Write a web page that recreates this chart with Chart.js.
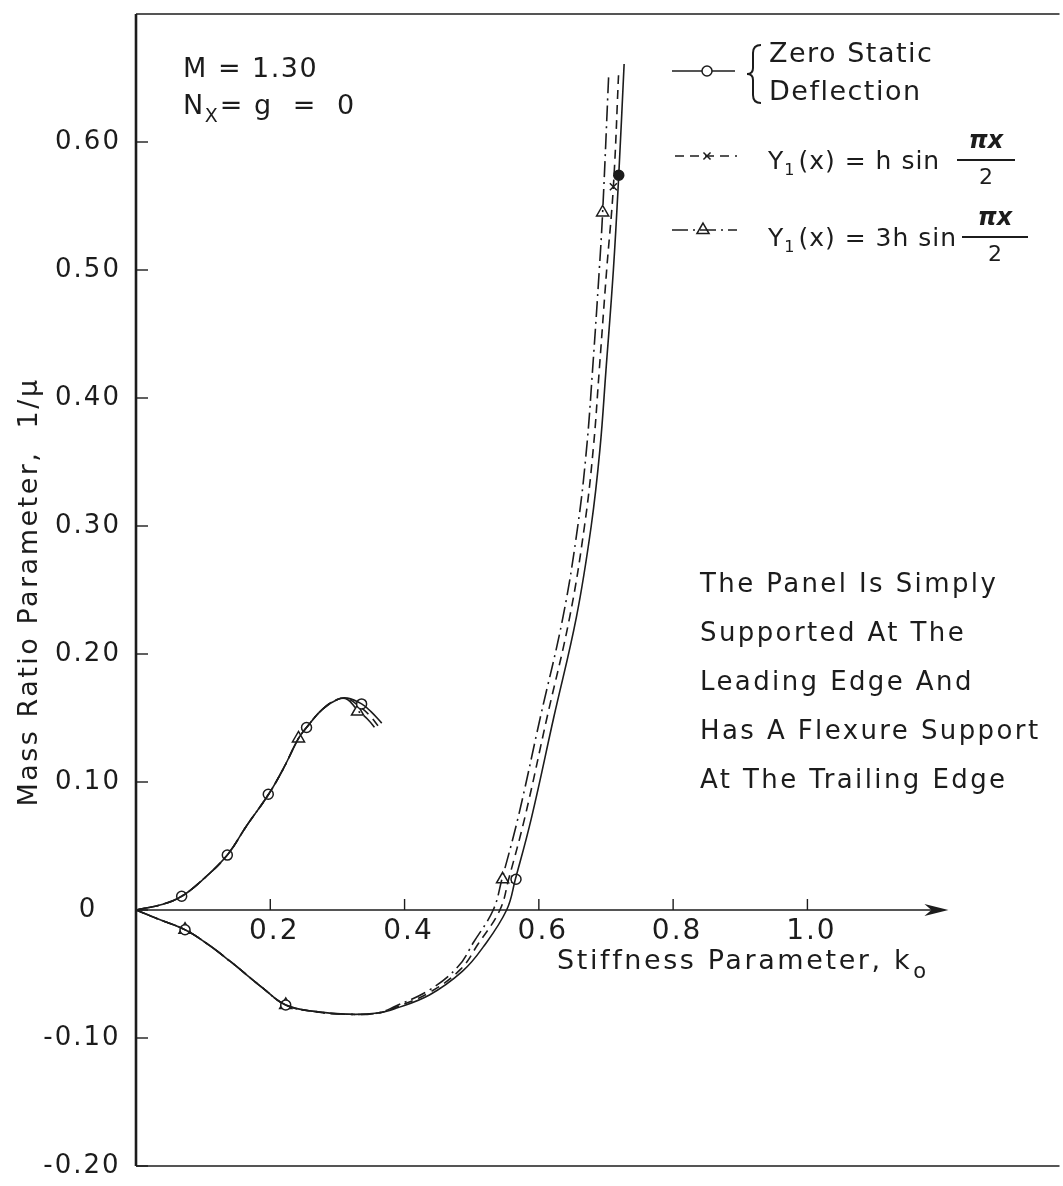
<!DOCTYPE html>
<html>
<head>
<meta charset="utf-8">
<script src="https://cdn.jsdelivr.net/npm/chart.js@4.4.0/dist/chart.umd.min.js"></script>
<style>
  html, body { margin: 0; padding: 0; background: #fff; }
  #wrap { width: 1063px; height: 1186px; }
</style>
</head>
<body>
<div id="wrap"><canvas id="chart" width="1063" height="1186"></canvas></div>
<script>
// axis ticks
const yTicks = [0.6, 0.5, 0.4, 0.3, 0.2, 0.1, 0, -0.1, -0.2];
const yTickLabels = ['0.60', '0.50', '0.40', '0.30', '0.20', '0.10', '0', '-0.10', '-0.20'];
const xTicks = [0.2, 0.4, 0.6, 0.8, 1.0];
const xTickLabels = ['0.2', '0.4', '0.6', '0.8', '1.0'];
const arrowK = 1.21;

// upper branch, shared by the three cases
const kHump = [0, 0.04, 0.068, 0.10, 0.136, 0.165, 0.197, 0.22, 0.242, 0.254, 0.278, 0.30];
const muHump = [0, 0.0045, 0.0107, 0.024, 0.043, 0.066, 0.090, 0.111, 0.134, 0.1426, 0.157, 0.1645];
// end of upper branch for each case
const kTailZero = [0.315, 0.336, 0.35, 0.366];
const muTailZero = [0.1655, 0.161, 0.155, 0.146];
const kTailH = [0.315, 0.333, 0.348, 0.362];
const muTailH = [0.165, 0.159, 0.152, 0.143];
const kTail3H = [0.315, 0.330, 0.345, 0.358];
const muTail3H = [0.1645, 0.156, 0.149, 0.141];

// lower branch, shared part
const kDip = [0, 0.035, 0.073, 0.105, 0.14, 0.189, 0.223, 0.268, 0.318, 0.36];
const muDip = [0, -0.0075, -0.0154, -0.026, -0.040, -0.061, -0.0742, -0.0794, -0.0815, -0.0805];
// rising part for each case
const kRiseZero = [0.387, 0.437, 0.486, 0.517, 0.552, 0.565, 0.589, 0.622, 0.656, 0.678, 0.691, 0.700, 0.711, 0.719, 0.727];
const muRiseZero = [-0.0768, -0.0664, -0.048, -0.029, 0, 0.024, 0.072, 0.15, 0.229, 0.30, 0.36, 0.422, 0.50, 0.574, 0.661];
const kRiseH = [0.387, 0.437, 0.484, 0.509, 0.542, 0.555, 0.579, 0.612, 0.646, 0.668, 0.681, 0.690, 0.701, 0.711, 0.719];
const muRiseH = [-0.076, -0.0645, -0.046, -0.027, 0, 0.024, 0.072, 0.15, 0.229, 0.30, 0.36, 0.422, 0.50, 0.565, 0.656];
const kRise3H = [0.387, 0.437, 0.480, 0.503, 0.532, 0.545, 0.569, 0.602, 0.636, 0.658, 0.671, 0.680, 0.690, 0.695, 0.704];
const muRise3H = [-0.075, -0.0625, -0.044, -0.025, 0, 0.024, 0.072, 0.15, 0.229, 0.30, 0.36, 0.422, 0.50, 0.545, 0.652];

// plotted points
const kCircle = [0.068, 0.136, 0.197, 0.254, 0.336, 0.073, 0.223, 0.566, 0.719];
const muCircle = [0.0107, 0.0429, 0.0904, 0.1426, 0.161, -0.0154, -0.0742, 0.024, 0.574];
const kCross = [0.711, 0.564];
const muCross = [0.565, 0.024];
const kTri = [0.073, 0.223, 0.242, 0.330, 0.546, 0.695];
const muTri = [-0.0154, -0.0742, 0.134, 0.155, 0.024, 0.545];

const noteLines = ['The Panel Is Simply', 'Supported At The', 'Leading Edge And', 'Has A Flexure Support', 'At The Trailing Edge'];

const ink = '#1c1c1c';
const FONT = '"DejaVu Sans", sans-serif';
const dashZero = [];
const dashH = [9, 6];
const dash3H = [16, 5, 2, 5];

function pts(ks, ms) {
  return ks.map((k, i) => ({ x: k, y: ms[i] }));
}

function curve(data, dash) {
  return {
    data: data,
    showLine: true,
    borderColor: ink,
    borderWidth: 1.6,
    borderDash: dash,
    pointRadius: 0,
    tension: 0.4,
    fill: false
  };
}

function txt(ctx, s, x, y, size, align, spacing) {
  ctx.font = size + 'px ' + FONT;
  ctx.letterSpacing = (spacing || 0) + 'px';
  ctx.textAlign = align || 'left';
  ctx.fillText(s, x, y);
  const w = ctx.measureText(s).width;
  ctx.letterSpacing = '0px';
  return w;
}

function line(ctx, x1, y1, x2, y2) {
  ctx.beginPath();
  ctx.moveTo(x1, y1);
  ctx.lineTo(x2, y2);
  ctx.stroke();
}

function marker(ctx, style, radius, x, y, fill) {
  ctx.save();
  ctx.setLineDash([]);
  ctx.lineWidth = 1.5;
  ctx.strokeStyle = ink;
  ctx.fillStyle = fill;
  Chart.helpers.drawPoint(ctx, { pointStyle: style, radius: radius, rotation: 0, borderWidth: 1.5 }, x, y);
  ctx.restore();
}

const axesPlugin = {
  id: 'axes',
  beforeDatasetsDraw(chart) {
    const ctx = chart.ctx;
    const a = chart.chartArea;
    const xs = chart.scales.x, ys = chart.scales.y;
    const y0 = ys.getPixelForValue(0);
    ctx.save();
    ctx.strokeStyle = ink;
    ctx.fillStyle = ink;
    ctx.lineWidth = 1.4;
    line(ctx, a.left, a.top, a.right + 5, a.top);
    line(ctx, a.left, a.bottom, a.right + 5, a.bottom);
    ctx.lineWidth = 2.6;
    line(ctx, a.left, a.top, a.left, a.bottom);
    // k axis with arrow
    const tip = xs.getPixelForValue(arrowK);
    ctx.lineWidth = 1.5;
    line(ctx, a.left, y0, tip - 12, y0);
    ctx.beginPath();
    ctx.moveTo(tip, y0);
    ctx.lineTo(tip - 24, y0 - 6);
    ctx.lineTo(tip - 17, y0);
    ctx.lineTo(tip - 24, y0 + 6);
    ctx.closePath();
    ctx.fill();
    ctx.lineWidth = 1.4;
    yTicks.forEach(v => {
      const py = ys.getPixelForValue(v);
      line(ctx, a.left, py, a.left + 12, py);
    });
    xTicks.forEach(v => {
      const px = xs.getPixelForValue(v);
      line(ctx, px, y0, px, y0 - 11);
    });
    ctx.restore();
  },
  afterDraw(chart) {
    const ctx = chart.ctx;
    const xs = chart.scales.x, ys = chart.scales.y;
    const y0 = ys.getPixelForValue(0);
    ctx.save();
    ctx.fillStyle = ink;
    ctx.strokeStyle = ink;
    ctx.textBaseline = 'middle';

    // tick labels
    yTicks.forEach((v, i) => {
      const lab = yTickLabels[i];
      const cx = lab.startsWith('-') ? 82 : 88;
      txt(ctx, lab, cx, ys.getPixelForValue(v), 26, 'center', 2);
    });
    xTicks.forEach((v, i) => {
      txt(ctx, xTickLabels[i], xs.getPixelForValue(v) + 4, y0 + 22, 28, 'center', 2);
    });

    // axis titles
    let w = txt(ctx, 'Stiffness Parameter, k', 557, y0 + 52, 27, 'left', 2.6);
    txt(ctx, 'o', 557 + w + 1, y0 + 63, 21, 'left', 0);
    ctx.save();
    ctx.translate(30, 592);
    ctx.rotate(-Math.PI / 2);
    txt(ctx, 'Mass Ratio Parameter,  1/\u03bc', 0, 0, 27, 'center', 2.5);
    ctx.restore();

    // flight condition
    txt(ctx, 'M = 1.30', 183, 70, 27, 'left', 1.5);
    w = txt(ctx, 'N', 183, 107, 27, 'left', 1.5);
    const w2 = txt(ctx, 'X', 183 + w, 117, 19, 'left', 0);
    txt(ctx, '= g  =  0', 183 + w + w2 + 2, 107, 27, 'left', 1.5);

    // legend
    ctx.lineWidth = 1.6;
    ctx.setLineDash(dashZero);
    line(ctx, 672, 71, 735, 71);
    marker(ctx, 'circle', 5, 707, 71, '#fff');
    ctx.setLineDash(dashH);
    line(ctx, 675, 156, 737, 156);
    marker(ctx, 'crossRot', 5, 707, 156, '#fff');
    ctx.setLineDash(dash3H);
    line(ctx, 672, 230, 737, 230);
    marker(ctx, 'triangle', 7, 703, 230, 'rgba(0,0,0,0)');
    ctx.setLineDash([]);

    // brace
    ctx.lineWidth = 2;
    ctx.beginPath();
    ctx.moveTo(761, 45);
    ctx.quadraticCurveTo(753, 45, 753, 53);
    ctx.lineTo(753, 68);
    ctx.quadraticCurveTo(753, 74, 747, 74);
    ctx.quadraticCurveTo(753, 74, 753, 80);
    ctx.lineTo(753, 95);
    ctx.quadraticCurveTo(753, 103, 761, 103);
    ctx.stroke();
    txt(ctx, 'Zero Static', 769, 55, 27, 'left', 1.5);
    txt(ctx, 'Deflection', 769, 93, 27, 'left', 1.5);

    [['(x) = h sin', 162, 986, 957, 1015], ['(x) = 3h sin', 239, 995, 962, 1028]].forEach(r => {
      const ty = r[1];
      let wy = txt(ctx, 'Y', 768, ty, 25, 'left', 1);
      let ws = txt(ctx, '1', 768 + wy, ty + 9, 16, 'left', 0);
      txt(ctx, r[0], 768 + wy + ws + 4, ty, 25, 'left', 1);
      ctx.font = 'italic bold 24px ' + FONT;
      ctx.textAlign = 'center';
      ctx.fillText('\u03c0x', r[2], ty - 20);
      ctx.lineWidth = 2;
      line(ctx, r[3], ty - 2, r[4], ty - 2);
      txt(ctx, '2', r[2], ty + 16, 22, 'center', 0);
    });

    // note
    noteLines.forEach((s, i) => {
      txt(ctx, s, 700, 585 + i * 49, 26, 'left', 2.4);
    });
    ctx.restore();
  }
};

const ctx = document.getElementById('chart');

new Chart(ctx, {
  type: 'scatter',
  data: {
    datasets: [
      curve(pts(kHump.concat(kTailZero), muHump.concat(muTailZero)), dashZero),
      curve(pts(kHump.concat(kTailH), muHump.concat(muTailH)), dashH),
      curve(pts(kHump.concat(kTail3H), muHump.concat(muTail3H)), dash3H),
      curve(pts(kDip.concat(kRiseZero), muDip.concat(muRiseZero)), dashZero),
      curve(pts(kDip.concat(kRiseH), muDip.concat(muRiseH)), dashH),
      curve(pts(kDip.concat(kRise3H), muDip.concat(muRise3H)), dash3H),
      {
        data: pts(kCircle, muCircle),
        pointStyle: 'circle',
        pointRadius: 5,
        pointBorderWidth: 1.5,
        pointBorderColor: ink,
        pointBackgroundColor: c => c.dataIndex === kCircle.length - 1 ? ink : '#fff'
      },
      {
        data: pts(kCross, muCross),
        pointStyle: 'crossRot',
        pointRadius: 5,
        pointBorderWidth: 1.5,
        pointBorderColor: ink
      },
      {
        data: pts(kTri, muTri),
        pointStyle: 'triangle',
        pointRadius: 7,
        pointBorderWidth: 1.5,
        pointBorderColor: ink,
        pointBackgroundColor: 'rgba(0,0,0,0)'
      }
    ]
  },
  options: {
    responsive: false,
    animation: false,
    devicePixelRatio: 1,
    layout: { padding: { left: 136, top: 14, right: 5, bottom: 20 } },
    scales: {
      x: { type: 'linear', min: 0, max: 1.368, display: false },
      y: { type: 'linear', min: -0.2, max: 0.7, display: false }
    },
    plugins: {
      legend: { display: false },
      tooltip: { enabled: false }
    }
  },
  plugins: [axesPlugin]
});
</script>
</body>
</html>
